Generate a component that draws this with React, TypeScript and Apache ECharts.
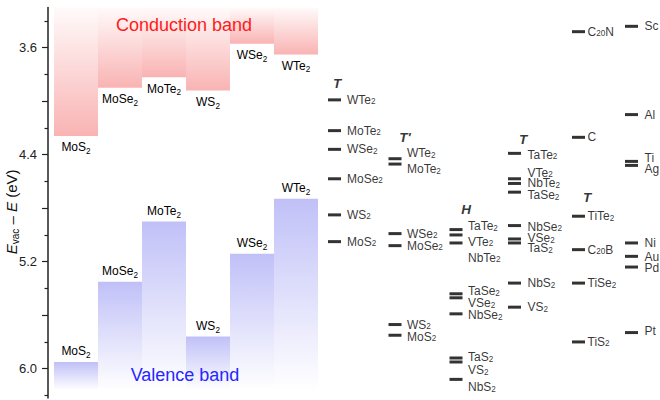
import { useEffect, useRef } from 'react';
import * as echarts from 'echarts';

// ---------- data (energies in eV below vacuum) ----------
const tmds = ['MoS2', 'MoSe2', 'MoTe2', 'WS2', 'WSe2', 'WTe2'];
const cbm = [4.26, 3.9, 3.82, 3.92, 3.57, 3.65];
const vbm = [5.95, 5.35, 4.9, 5.76, 5.14, 4.73];

const tNames = ['WTe2', 'MoTe2', 'WSe2', 'MoSe2', 'WS2', 'MoS2'];
const tE = [3.99, 4.22, 4.36, 4.58, 4.85, 5.05];

const tpNames = ['WTe2', 'MoTe2', 'WSe2', 'MoSe2', 'WS2', 'MoS2'];
const tpE = [4.43, 4.47, 4.99, 5.08, 5.67, 5.75];
const tpLabelE = [4.39, 4.51, 4.99, 5.08, 5.67, 5.76];

const hNames = ['TaTe2', 'VTe2', 'NbTe2', 'TaSe2', 'VSe2', 'NbSe2', 'TaS2', 'VS2', 'NbS2'];
const hE = [4.96, 5.06, 5.0, 5.44, 5.47, 5.59, 5.92, 5.95, 6.08];
const hLabelE = [4.935, 5.05, 5.17, 5.42, 5.51, 5.6, 5.915, 6.01, 6.14];

const ttNames = ['TaTe2', 'VTe2', 'NbTe2', 'TaSe2', 'NbSe2', 'VSe2', 'TaS2', 'NbS2', 'VS2'];
const ttE = [4.39, 4.58, 4.615, 4.68, 4.93, 5.03, 5.06, 5.36, 5.54];
const ttLabelE = [4.4, 4.535, 4.615, 4.705, 4.94, 5.025, 5.1, 5.36, 5.54];

const tiNames = ['C20N', 'C', 'TiTe2', 'C20B', 'TiSe2', 'TiS2'];
const tiE = [3.48, 4.27, 4.86, 5.11, 5.36, 5.8];

const metalNames = ['Sc', 'Al', 'Ti', 'Ag', 'Ni', 'Au', 'Pd', 'Pt'];
const metalE = [3.44, 4.1, 4.45, 4.48, 5.06, 5.16, 5.24, 5.73];
const metalLabelE = [3.44, 4.1, 4.425, 4.505, 5.06, 5.165, 5.25, 5.72];

const headerNames = ['T', "T'", 'H', 'T', 'T'];
const headerE = [3.87, 4.27, 4.81, 4.29, 4.72];

const yTickLabels = [3.6, 4.4, 5.2, 6.0];
const yMajorTicks = [3.6, 4.0, 4.4, 4.8, 5.2, 5.6, 6.0];
const yMinorTicks = [3.4, 3.8, 4.2, 4.6, 5.0, 5.4, 5.8, 6.2];

// ---------- layout ----------
const Y_MIN = 3.3;
const Y_MAX = 6.22;
const VB_END = 6.16;
const BAR_START = 54;
const BAR_W = 44;
const FONT = '"Liberation Sans", Arial, Helvetica, sans-serif';

const columns = [
  { names: tNames, e: tE, labelE: tE, x: 334.5, dist: 12.5, hx: 337 },
  { names: tpNames, e: tpE, labelE: tpLabelE, x: 395, dist: 12, hx: 405 },
  { names: hNames, e: hE, labelE: hLabelE, x: 456, dist: 12, hx: 466 },
  { names: ttNames, e: ttE, labelE: ttLabelE, x: 514.5, dist: 13, hx: 523 },
  { names: tiNames, e: tiE, labelE: tiE, x: 578.5, dist: 9, hx: 587 },
  { names: metalNames, e: metalE, labelE: metalLabelE, x: 631.5, dist: 13, hx: 0 },
];

const toRich = (name: string) =>
  name
    .split(/(\d+)/)
    .filter((p) => p.length > 0)
    .map((p) => (/^\d+$/.test(p) ? `{s|${p}}` : `{n|${p}}`))
    .join('');

const makeRich = (size: number, lh: number) => ({
  n: { fontSize: size, lineHeight: lh, verticalAlign: 'middle', fontFamily: FONT, color: '#000', fill: '#000' },
  s: { fontSize: size * 0.68, lineHeight: lh / 2 - 1, verticalAlign: 'bottom', fontFamily: FONT, color: '#000', fill: '#000' },
});

export default function App() {
  const ref = useRef<HTMLDivElement>(null);

  useEffect(() => {
    document.body.style.margin = '0';
    if (!ref.current) return;
    const chart = echarts.init(ref.current, undefined, { renderer: 'svg' });

    const barRich = makeRich(12, 16);
    const markRich = makeRich(12, 12);

    const markers: any[] = [];
    const labels: any[] = [];
    columns.forEach((col) => {
      col.names.forEach((nm, k) => {
        markers.push({ value: [col.x, col.e[k]], name: nm });
        labels.push({ value: [col.x, col.labelE[k]], name: nm, label: { distance: col.dist } });
      });
    });
    const headers = headerNames.map((h, k) => ({ value: [columns[k].hx, headerE[k]], name: h }));

    const option: any = {
      animation: false,
      grid: { left: 48, right: 0, top: 7.6, bottom: 1.9, containLabel: false, outerBoundsMode: 'none' },
      xAxis: { type: 'value', min: 48, max: 660, show: false },
      yAxis: [
        {
          type: 'value',
          inverse: true,
          min: Y_MIN,
          max: Y_MAX,
          position: 'left',
          splitLine: { show: false },
          axisLine: { show: true, lineStyle: { color: '#222', width: 1.5 } },
          axisTick: { show: true, inside: false, length: 6, customValues: yMajorTicks, lineStyle: { color: '#222', width: 1.2 } },
          axisLabel: {
            show: true,
            customValues: yTickLabels,
            margin: 11,
            fontSize: 13,
            fontFamily: FONT,
            color: '#222',
            formatter: (v: number) => v.toFixed(1),
          },
          name: '{i|E}{s|vac}{n| – }{i|E}{n| (eV)}',
          nameLocation: 'middle',
          nameRotate: 90,
          nameGap: 28,
          nameMoveOverlap: false,
          nameTextStyle: {
            padding: [0, 18, 0, 0],
            rich: {
              i: { fontSize: 15, fontStyle: 'italic', fontFamily: FONT, color: '#111', lineHeight: 18, verticalAlign: 'middle' },
              n: { fontSize: 15, fontFamily: FONT, color: '#111', lineHeight: 18, verticalAlign: 'middle' },
              s: { fontSize: 10, fontFamily: FONT, color: '#111', lineHeight: 9, verticalAlign: 'bottom' },
            },
          },
        },
        {
          type: 'value',
          inverse: true,
          min: Y_MIN,
          max: Y_MAX,
          position: 'left',
          offset: 0,
          splitLine: { show: false },
          axisLine: { show: false },
          axisTick: { show: true, inside: false, length: 3.5, customValues: yMinorTicks, lineStyle: { color: '#222', width: 1.2 } },
          axisLabel: { show: false },
        },
      ],
      graphic: [
        {
          type: 'text',
          x: 184,
          y: 25,
          z: 100,
          silent: true,
          style: { text: 'Conduction band', fontSize: 18, fontFamily: FONT, fill: '#ff1a1a', align: 'center', verticalAlign: 'middle' },
        },
        {
          type: 'text',
          x: 185,
          y: 375,
          z: 100,
          silent: true,
          style: { text: 'Valence band', fontSize: 18, fontFamily: FONT, fill: '#2626ff', align: 'center', verticalAlign: 'middle' },
        },
      ],
      series: [
        {
          type: 'custom',
          silent: true,
          data: tmds.map((_, i) => [i, cbm[i], vbm[i]]),
          renderItem: (_p: any, api: any) => {
            const i = api.value(0);
            const cb = api.value(1);
            const vb = api.value(2);
            const x0 = BAR_START + i * BAR_W;
            const a = api.coord([x0, Y_MIN]);
            const b = api.coord([x0 + BAR_W, cb]);
            const c = api.coord([x0, vb]);
            const d = api.coord([x0 + BAR_W, VB_END]);
            const txt = toRich(tmds[i]);
            return {
              type: 'group',
              children: [
                {
                  type: 'rect',
                  shape: { x: a[0], y: a[1], width: b[0] - a[0], height: b[1] - a[1] },
                  style: {
                    fill: new echarts.graphic.LinearGradient(0, 0, 0, 1, [
                      { offset: 0, color: '#fffafa' },
                      { offset: 1, color: '#f9b3b3' },
                    ]),
                  },
                },
                {
                  type: 'rect',
                  shape: { x: c[0], y: c[1], width: d[0] - c[0], height: d[1] - c[1] },
                  style: {
                    fill: new echarts.graphic.LinearGradient(0, 0, 0, 1, [
                      { offset: 0, color: '#c0c0f8' },
                      { offset: 1, color: '#ffffff' },
                    ]),
                  },
                },
                {
                  type: 'text',
                  style: { text: txt, rich: barRich, x: (a[0] + b[0]) / 2, y: b[1] + 11.5, align: 'center', verticalAlign: 'middle' },
                },
                {
                  type: 'text',
                  style: { text: txt, rich: barRich, x: (c[0] + d[0]) / 2, y: c[1] - 10.5, align: 'center', verticalAlign: 'middle' },
                },
              ],
            };
          },
        },
        {
          type: 'scatter',
          silent: true,
          symbol: 'rect',
          symbolSize: [13, 3],
          itemStyle: { color: '#000' },
          data: markers,
        },
        {
          type: 'scatter',
          silent: true,
          symbolSize: 0,
          itemStyle: { color: 'transparent' },
          label: {
            show: true,
            position: 'right',
            formatter: (p: any) => toRich(p.name),
            rich: markRich,
          },
          data: labels,
        },
        {
          type: 'scatter',
          silent: true,
          symbolSize: 0,
          itemStyle: { color: 'transparent' },
          label: {
            show: true,
            position: 'inside',
            formatter: (p: any) => p.name,
            fontSize: 13.5,
            fontWeight: 'bold',
            fontStyle: 'italic',
            fontFamily: FONT,
            color: '#000',
          },
          data: headers,
        },
      ],
    };

    chart.setOption(option);
    return () => chart.dispose();
  }, []);

  return <div ref={ref} style={{ position: 'absolute', left: 0, top: 0, width: 660, height: 400 }} />;
}
